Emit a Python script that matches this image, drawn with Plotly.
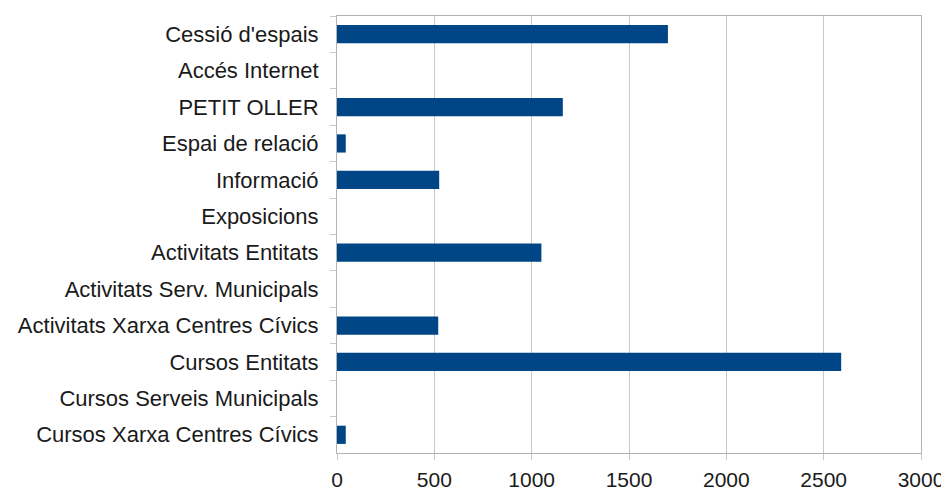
import plotly.graph_objects as go

categories = [
    "Cessió d'espais",
    "Accés Internet",
    "PETIT OLLER",
    "Espai de relació",
    "Informació",
    "Exposicions",
    "Activitats Entitats",
    "Activitats Serv. Municipals",
    "Activitats Xarxa Centres Cívics",
    "Cursos Entitats",
    "Cursos Serveis Municipals",
    "Cursos Xarxa Centres Cívics",
]
values = [1700, 0, 1160, 45, 525, 0, 1050, 0, 520, 2590, 0, 45]
x_ticks = [0, 500, 1000, 1500, 2000, 2500, 3000]

fig = go.Figure(
    go.Bar(
        x=values,
        y=categories,
        orientation="h",
        marker=dict(color="#004586", line=dict(width=0)),
        width=0.5,
    )
)

# page body has an 8px margin, so the figure is sized to fit the window
fig.update_layout(
    width=941,
    height=483,
    margin=dict(l=329, r=28, t=8, b=38, autoexpand=False),
    paper_bgcolor="white",
    plot_bgcolor="white",
    showlegend=False,
    font=dict(family="Liberation Sans, Arial, sans-serif", size=22, color="#1a1a1a"),
)

fig.update_xaxes(
    range=[0, 3000],
    tickvals=x_ticks,
    ticktext=[str(v) for v in x_ticks],
    tickfont=dict(size=21),
    showgrid=True,
    gridcolor="#c8c8c8",
    gridwidth=1,
    showline=True,
    linecolor="#b3b3b3",
    mirror=True,
    ticks="outside",
    ticklen=6,
    tickcolor="#c8c8c8",
    ticklabelstandoff=2,
    zeroline=False,
    automargin=False,
)

fig.update_yaxes(
    autorange="reversed",
    showgrid=False,
    showline=True,
    linecolor="#b3b3b3",
    mirror=True,
    ticks="outside",
    tickson="boundaries",
    ticklen=6,
    tickcolor="#c8c8c8",
    ticklabelstandoff=13,
    automargin=False,
)

fig.write_html("out.html")
